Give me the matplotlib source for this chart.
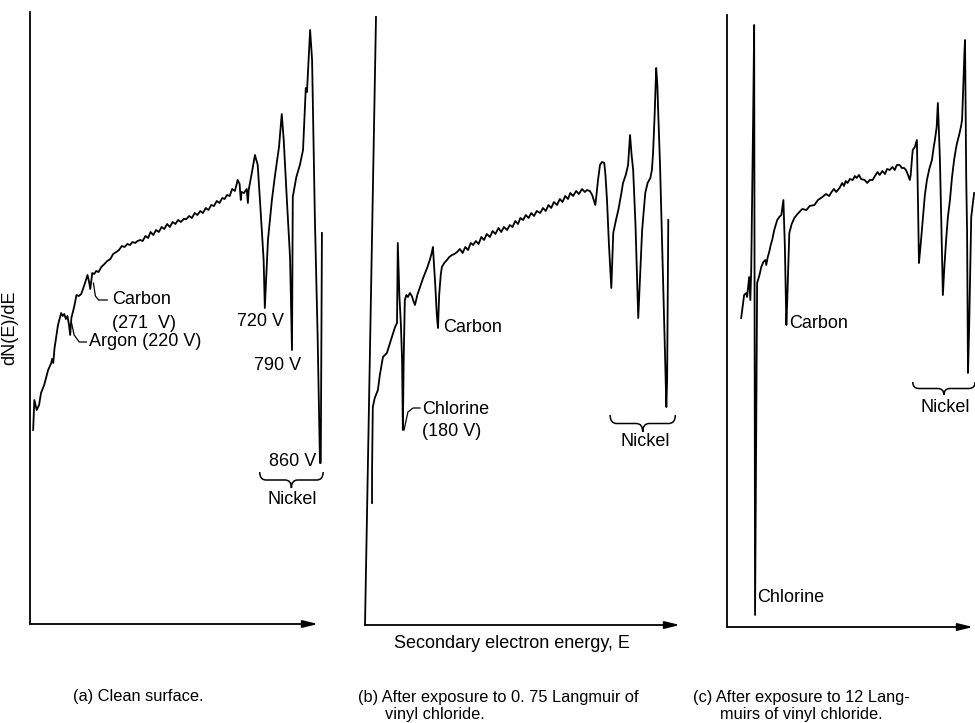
import matplotlib
matplotlib.use("Agg")
import matplotlib.pyplot as plt
from matplotlib.path import Path
from matplotlib.patches import PathPatch

plt.rcParams['font.family'] = ['Liberation Sans Narrow', 'Liberation Sans', 'DejaVu Sans']

# ---------------- data (energy in eV, dN(E)/dE in arbitrary units) ----------------
energy_a = [132, 135, 141, 147, 152, 160, 170, 178, 180, 183, 186, 195, 203, 207, 211, 215, 219, 223,
            226, 229, 236, 242, 248, 254, 262, 270, 274, 277, 282, 287, 292, 298, 305, 313, 320, 328,
            335, 343, 350, 357, 364, 371, 378, 384, 391, 397, 404, 410, 417, 424, 430, 437, 444, 451,
            458, 465, 472, 479, 486, 493, 500, 507, 514, 521, 528, 535, 542, 549, 556, 563, 570, 577,
            584, 591, 598, 605, 612, 618, 624, 631, 637, 644, 648, 651, 656, 659, 661, 667, 674, 677,
            679, 687, 695, 702, 710, 717, 720, 728, 738, 746, 756, 763, 768, 776, 784, 789, 791, 800,
            809, 817, 824, 827, 835, 840, 847, 854, 860, 862, 865]
signal_a = [195, 225, 215, 220, 232, 240, 255, 262, 266, 262, 276, 300, 312, 309, 311, 306, 309, 300,
            290, 307, 318, 330, 329, 331, 340, 350, 343, 336, 352, 351, 354, 353, 358, 361, 364, 366,
            371, 373, 375, 379, 378, 381, 380, 383, 382, 384, 385, 384, 389, 387, 393, 390, 395, 393,
            398, 396, 401, 398, 403, 401, 405, 403, 406, 406, 409, 407, 412, 410, 414, 412, 417, 415,
            420, 419, 424, 422, 427, 426, 430, 429, 436, 434, 440, 445, 441, 425, 433, 432, 436, 422,
            435, 452, 470, 460, 410, 365, 317, 385, 425, 450, 478, 511, 485, 425, 368, 275, 428, 448,
            460, 475, 537, 533, 595, 565, 408, 290, 162, 162, 392]

energy_b = [102, 102, 104, 109, 117, 122, 130, 140, 148, 156, 161, 166, 168, 172, 176, 179, 181, 183,
            186, 190, 194, 199, 204, 208, 212, 218, 225, 232, 238, 244, 250, 255, 258, 264, 268, 271,
            274, 278, 281, 287, 294, 300, 307, 313, 320, 327, 334, 341, 348, 355, 361, 368, 375, 382,
            389, 396, 404, 411, 418, 426, 433, 440, 448, 455, 462, 469, 476, 482, 489, 496, 503, 510,
            517, 524, 533, 540, 547, 554, 561, 568, 576, 583, 590, 597, 604, 610, 617, 625, 632, 640,
            647, 653, 660, 666, 670, 674, 677, 681, 686, 691, 697, 700, 704, 709, 715, 720, 727, 733,
            740, 745, 752, 758, 763, 767, 771, 777, 784, 789, 794, 802, 808, 815, 819, 822, 826, 830,
            833, 835, 840, 846, 853, 856, 858, 861]
signal_b = [122, 152, 218, 227, 235, 250, 268, 272, 282, 292, 298, 302, 382, 330, 300, 265, 195, 262,
            325, 330, 328, 332, 329, 324, 320, 330, 338, 346, 352, 358, 365, 372, 378, 340, 310, 297,
            330, 350, 358, 362, 365, 368, 370, 371, 373, 376, 372, 378, 375, 382, 380, 384, 381, 388,
            385, 391, 388, 394, 391, 397, 393, 398, 395, 400, 398, 404, 401, 407, 405, 410, 407, 412,
            409, 414, 412, 417, 414, 420, 417, 423, 420, 426, 423, 429, 426, 432, 429, 434, 431, 436,
            433, 435, 434, 430, 425, 420, 430, 445, 460, 463, 462, 450, 425, 380, 337, 392, 405, 415,
            430, 442, 450, 460, 490, 470, 455, 400, 307, 350, 395, 432, 442, 447, 455, 472, 510, 557,
            540, 515, 458, 370, 265, 218, 245, 405]

energy_c = [118, 128, 135, 138, 145, 149, 152, 155, 159, 162, 165, 172, 180, 186, 193, 200, 203, 208,
            213, 218, 223, 230, 240, 247, 254, 261, 266, 271, 274, 281, 289, 298, 306, 315, 325, 339,
            350, 366, 378, 393, 405, 416, 424, 432, 440, 451, 460, 466, 472, 478, 486, 496, 503, 509,
            517, 524, 536, 545, 553, 563, 571, 580, 587, 596, 605, 612, 621, 630, 638, 645, 655, 662,
            670, 676, 683, 689, 692, 696, 699, 706, 713, 717, 720, 725, 730, 740, 747, 755, 764, 770,
            774, 780, 784, 787, 791, 796, 801, 806, 812, 818, 825, 832, 839, 845, 849, 856, 862, 866,
            870, 874, 876, 878, 880, 883, 886, 890, 897, 903, 907]
signal_c = [309, 332, 334, 330, 350, 327, 357, 427, 520, 602, 12, 344, 352, 360, 365, 367, 362, 370,
            375, 382, 387, 397, 407, 410, 412, 427, 380, 302, 327, 394, 403, 409, 412, 415, 418, 417,
            421, 422, 427, 430, 433, 431, 435, 438, 435, 439, 444, 441, 446, 444, 448, 447, 451, 449,
            452, 448, 447, 444, 447, 447, 451, 455, 452, 456, 453, 458, 457, 460, 457, 462, 462, 459,
            459, 457, 452, 447, 452, 467, 477, 480, 487, 420, 364, 380, 397, 432, 447, 458, 467, 480,
            487, 500, 524, 500, 467, 400, 332, 360, 387, 410, 427, 450, 467, 478, 484, 492, 500, 507,
            540, 575, 587, 520, 450, 394, 254, 300, 410, 425, 434]

panel_captions = ["(a) Clean surface.",
                  "(b) After exposure to 0. 75 Langmuir of\n      vinyl chloride.",
                  "(c) After exposure to 12 Lang-\n      muirs of vinyl chloride."]

# ---------------- figure ----------------
W, H = 975, 723
fig = plt.figure(figsize=(W / 100, H / 100), dpi=100)

def add_ax(left, right, top, bottom):
    return fig.add_axes([left / W, 1 - bottom / H, (right - left) / W, (bottom - top) / H])

LW = 1.3
FS = 13
FSC = 11.8

def axes_lines(ax, top_shift=0.0):
    ax.plot([0, top_shift], [0, 1], transform=ax.transAxes, color='black', lw=1.3, clip_on=False)
    ax.annotate('', xy=(1, 0), xytext=(0, 0), xycoords='axes fraction', textcoords='axes fraction',
                arrowprops=dict(arrowstyle='-|>,head_length=0.9,head_width=0.22', color='black', lw=1.3,
                                shrinkA=0, shrinkB=0))

def brace(ax, x0, x1, ytop, h):
    xm = (x0 + x1) / 2
    q = (x1 - x0) * 0.1
    ym = ytop - h * 0.5
    verts = [(x0, ytop), (x0, ym), (x0 + q, ym), (xm - q, ym), (xm, ym), (xm, ytop - h),
             (xm, ym), (xm + q, ym), (x1 - q, ym), (x1, ym), (x1, ytop)]
    codes = [Path.MOVETO, Path.CURVE3, Path.CURVE3, Path.LINETO, Path.CURVE3, Path.CURVE3,
             Path.CURVE3, Path.CURVE3, Path.LINETO, Path.CURVE3, Path.CURVE3]
    ax.add_patch(PathPatch(Path(verts, codes), fill=False, lw=1.1, color='black', clip_on=False))

def leader(ax, xs, ys):
    ax.plot(xs, ys, color='black', lw=0.9, clip_on=False)

# panel a
axa = add_ax(30, 318, 12, 624)
axa.set_xlim(124, 855)
axa.set_ylim(1, 613)
axa.axis('off')
axes_lines(axa)
axa.plot(energy_a, signal_a, color='black', lw=LW, clip_on=False)
leader(axa, [285, 290, 298, 320], [342, 329, 325, 325])
axa.text(333, 325, "Carbon", fontsize=FS, va='center', ha='left')
axa.text(333, 302, "(271  V)", fontsize=FS, va='center', ha='left')
leader(axa, [229, 236, 249, 267], [303, 290, 283, 283])
axa.text(275, 284, "Argon (220 V)", fontsize=FS, va='center', ha='left')
axa.text(710, 303, "720 V", fontsize=FS, va='center', ha='center')
axa.text(753, 260, "790 V", fontsize=FS, va='center', ha='center')
axa.text(791, 163, "860 V", fontsize=FS, va='center', ha='center')
brace(axa, 707, 868, 153, 16)
axa.text(789, 125, "Nickel", fontsize=FS, va='center', ha='center')
fig.text(10 / W, 1 - 328 / H, "dN(E)/dE", rotation=90, fontsize=FS, ha='center', va='center')

# panel b
axb = add_ax(365, 680, 17, 625)
axb.set_xlim(84, 891)
axb.set_ylim(0, 608)
axb.axis('off')
axes_lines(axb, top_shift=11 / 315)
axb.plot(energy_b, signal_b, color='black', lw=LW, clip_on=False)
axb.text(284, 298, "Carbon", fontsize=FS, va='center', ha='left')
leader(axb, [184, 194, 207, 225], [195, 213, 217, 217])
axb.text(230, 216, "Chlorine", fontsize=FS, va='center', ha='left')
axb.text(230, 193, "(180 V)", fontsize=FS, va='center', ha='left')
brace(axb, 712, 879, 210, 17)
axb.text(802, 183, "Nickel", fontsize=FS, va='center', ha='center')

# panel c
axc = add_ax(727, 973, 15, 627)
axc.set_xlim(70, 903)
axc.set_ylim(0, 612)
axc.axis('off')
axes_lines(axc)
axc.plot(energy_c, signal_c, color='black', lw=LW, clip_on=False)
axc.text(281, 304, "Carbon", fontsize=FS, va='center', ha='left')
axc.text(172, 30, "Chlorine", fontsize=FS, va='center', ha='left')
brace(axc, 699, 910, 245, 13)
axc.text(808, 220, "Nickel", fontsize=FS, va='center', ha='center')

# shared texts
fig.text(512 / W, 1 - 643 / H, "Secondary electron energy, E", fontsize=FS, ha='center', va='center')
fig.text(73 / W, 1 - 697 / H, panel_captions[0], fontsize=FSC, ha='left', va='center')
fig.text(358 / W, 1 - 706 / H, panel_captions[1], fontsize=FSC, ha='left', va='center', linespacing=1.2)
fig.text(693 / W, 1 - 706 / H, panel_captions[2], fontsize=FSC, ha='left', va='center', linespacing=1.2)

fig.savefig("out.png", dpi=100)
